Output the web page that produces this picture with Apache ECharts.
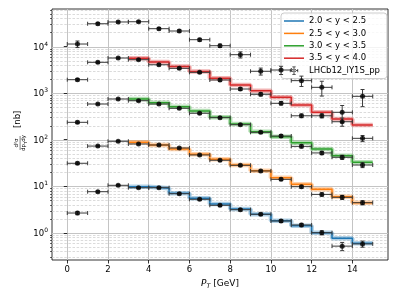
<!DOCTYPE html>
<html>
<head>
<meta charset="utf-8">
<script src="https://cdn.jsdelivr.net/npm/echarts@6/dist/echarts.min.js"></script>
<style>html,body{margin:0;padding:0;background:#fff}#c{width:399px;height:299px}</style>
</head>
<body>
<div id="c"></div>
<script>
// ---- data ----
const pT = [0.5, 1.5, 2.5, 3.5, 4.5, 5.5, 6.5, 7.5, 8.5, 9.5, 10.5, 11.5, 12.5, 13.5, 14.5];
const pTHalfWidth = 0.5;
// LHCb data (scaled per rapidity bin)
const dataY20 = [2.67, 7.66, 10.5, 9.33, 9.33, 6.94, 5.26, 3.91, 3.15, 2.51, 1.80, 1.48, 1.01, 0.52, 0.58];
const dataY25 = [31.2, 73, 92.5, 81, 77, 66.4, 47, 36.2, 28.2, 21.3, 14.1, 9.8, 6.7, 5.8, 4.45];
const dataY30 = [236, 583, 747, 687, 583, 472, 369, 297, 210, 144, 120, 72, 52, 42, 28.6];
const dataY35 = [1940, 4580, 5660, 5210, 4060, 3400, 2790, 1910, 1224, 942, 604, 326, 326, 243, 107];
const dataY40 = [11300, 30800, 33600, 34000, 24100, 21500, 14000, 10400, 6670, 2940, 3130, 1850, 1330, 387, 853];
// relative y uncertainties
const errY20 = [0.08, 0.05, 0.04, 0.04, 0.04, 0.05, 0.05, 0.05, 0.06, 0.06, 0.07, 0.08, 0.10, 0.20, 0.15];
const errY25 = [0.06, 0.04, 0.04, 0.04, 0.04, 0.04, 0.04, 0.05, 0.05, 0.05, 0.06, 0.07, 0.08, 0.10, 0.10];
const errY30 = [0.06, 0.04, 0.04, 0.04, 0.04, 0.04, 0.05, 0.05, 0.05, 0.06, 0.07, 0.08, 0.08, 0.10, 0.12];
const errY35 = [0.06, 0.05, 0.04, 0.04, 0.05, 0.05, 0.05, 0.06, 0.07, 0.08, 0.08, 0.09, 0.10, 0.20, 0.15];
const errY40 = [0.16, 0.06, 0.05, 0.05, 0.06, 0.06, 0.07, 0.08, 0.15, 0.17, 0.20, 0.25, 0.35, 0.40, 0.40];
// theory (step histograms, bins 3-4 ... 14-15)
const thEdges = [3, 4, 5, 6, 7, 8, 9, 10, 11, 12, 13, 14, 15];
const thY20 = [9.8, 9.06, 7.08, 5.52, 4.17, 3.26, 2.51, 1.83, 1.43, 1.01, 0.77, 0.60];
const thY25 = [88, 77, 63, 48.6, 38, 28.6, 21.6, 15.3, 11, 8.6, 6.0, 4.45];
const thY30 = [747, 622, 511, 413, 303, 217, 149, 116, 86, 63, 45, 33];
const thY35 = [5580, 4640, 3720, 2910, 2080, 1490, 1126, 813, 556, 387, 278, 207];
const thLabels = ['2.0 < y < 2.5', '2.5 < y < 3.0', '3.0 < y < 3.5', '3.5 < y < 4.0'];
const dataLabel = 'LHCb12_lY1S_pp';
const xTicks = [0, 2, 4, 6, 8, 10, 12, 14];
const yMajor = [1, 10, 100, 1000, 10000];
const yMin = 0.262, yMax = 63800;

// ---- build ----
const FONT = 'DejaVu Sans';
const colors = ['#1f77b4', '#ff7f0e', '#2ca02c', '#d62728'];
const thSets = [thY20, thY25, thY30, thY35];
function stepData(vals) {
  const d = vals.map((v, i) => [thEdges[i], v]);
  d.push([thEdges[thEdges.length - 1], vals[vals.length - 1]]);
  return d;
}
const dataSets = [[dataY20, errY20], [dataY25, errY25], [dataY30, errY30], [dataY35, errY35], [dataY40, errY40]];
const pts = [];
dataSets.forEach(([vals, errs]) => vals.forEach((v, i) => pts.push([pT[i], v, errs[i]])));

// grid lines (major decades + minor 2..9)
const gridVals = [];
for (let n = -1; n <= 4; n++) {
  for (let k = 1; k <= 9; k++) {
    const v = k * Math.pow(10, n);
    if (v > yMin && v < yMax) gridVals.push([0, v, k === 1 ? 1 : 0]);
  }
}

const series = [];
series.push({
  type: 'custom', silent: true, z: 0, clip: false,
  data: gridVals,
  renderItem: function (params, api) {
    const cs = params.coordSys;
    const y = Math.round(api.coord([0, api.value(1)])[1]) + 0.5;
    const major = api.value(2) === 1;
    const ch = [{
      type: 'line', shape: { x1: cs.x, y1: y, x2: cs.x + cs.width, y2: y },
      style: major ? { stroke: '#c4c4c4', lineWidth: 1 } : { stroke: '#d2d2d2', lineWidth: 0.8, lineDash: [2.5, 1.6] }
    }];
    if (!major) ch.push({ type: 'line', shape: { x1: cs.x - 2, y1: y, x2: cs.x, y2: y }, style: { stroke: '#000', lineWidth: 0.6 } });
    return { type: 'group', children: ch };
  }
});
thSets.forEach((vals, i) => {
  series.push({
    type: 'line', name: 'band' + i, step: 'end', data: stepData(vals), symbol: 'none', silent: true, z: 2,
    lineStyle: { color: colors[i], width: 4.5, opacity: 0.35 }
  });
});
thSets.forEach((vals, i) => {
  series.push({
    type: 'line', name: thLabels[i], step: 'end', data: stepData(vals), symbol: 'none', z: 3,
    color: colors[i], lineStyle: { color: colors[i], width: 1.5 }
  });
});
series.push({
  type: 'custom', name: dataLabel, z: 4, clip: false,
  data: pts, encode: { x: 0, y: 1 },
  itemStyle: { color: '#000' },
  renderItem: function (params, api) {
    const x = api.value(0), y = api.value(1), e = api.value(2) * y;
    const c = api.coord([x, y]);
    const l = api.coord([x - pTHalfWidth, y]), r = api.coord([x + pTHalfWidth, y]);
    const t = api.coord([x, y + e]), b = api.coord([x, y - e]);
    const st = { stroke: '#3a3a3a', lineWidth: 1 };
    const cap = 2;
    return {
      type: 'group', children: [
        { type: 'line', shape: { x1: l[0], y1: c[1], x2: r[0], y2: c[1] }, style: st },
        { type: 'line', shape: { x1: l[0], y1: c[1] - cap, x2: l[0], y2: c[1] + cap }, style: st },
        { type: 'line', shape: { x1: r[0], y1: c[1] - cap, x2: r[0], y2: c[1] + cap }, style: st },
        { type: 'line', shape: { x1: c[0], y1: t[1], x2: c[0], y2: b[1] }, style: st },
        { type: 'line', shape: { x1: c[0] - cap, y1: t[1], x2: c[0] + cap, y2: t[1] }, style: st },
        { type: 'line', shape: { x1: c[0] - cap, y1: b[1], x2: c[0] + cap, y2: b[1] }, style: st }
      ]
    };
  }
});
series.push({
  type: 'scatter', name: dataLabel, z: 5, data: pts, encode: { x: 0, y: 1 },
  symbol: 'circle', symbolSize: 5, itemStyle: { color: '#000' }
});

const ebIcon = 'path://M0,0 L0,0 M20,12 L20,12 M5,5.5 L15,5.5 L15,6.5 L5,6.5 Z M5,4 L5.9,4 L5.9,8 L5,8 Z M14.1,4 L15,4 L15,8 L14.1,8 Z M9.5,1 L10.5,1 L10.5,11 L9.5,11 Z M8,1 L12,1 L12,1.9 L8,1.9 Z M8,10.1 L12,10.1 L12,11 L8,11 Z M7.6,6 A2.4,2.4 0 1,0 12.4,6 A2.4,2.4 0 1,0 7.6,6 Z';
const lineIcon = 'path://M0,0 L0,0 M20,10 L20,10 M0,4.25 L20,4.25 L20,5.75 L0,5.75 Z';

const option = {
  animation: false,
  backgroundColor: '#fff',
  textStyle: { fontFamily: FONT },
  grid: { left: 52, top: 9, width: 336, height: 251, show: true, borderColor: '#000', borderWidth: 0.8, backgroundColor: 'transparent' },
  legend: {
    orient: 'vertical', left: 281, top: 13, selectedMode: false,
    itemWidth: 20, itemHeight: 10, itemGap: 2.4,
    padding: [3, 7, 3, 3],
    backgroundColor: 'rgba(255,255,255,0.8)', borderColor: '#cccccc', borderWidth: 1, borderRadius: 3,
    textStyle: { fontSize: 8.5, color: '#000', fontFamily: FONT, lineHeight: 10 },
    data: thLabels.map((n, i) => ({ name: n, icon: lineIcon, itemStyle: { color: colors[i], borderWidth: 0 } }))
      .concat([{ name: dataLabel, icon: ebIcon, itemStyle: { color: '#222', borderWidth: 0 } }])
  },
  xAxis: {
    type: 'value', min: -0.75, max: 15.75, minInterval: 2, maxInterval: 2,
    axisLine: { show: false },
    axisTick: { show: true, length: 3.5, customValues: xTicks, lineStyle: { color: '#000', width: 0.8 } },
    axisLabel: { customValues: xTicks, fontSize: 8.5, color: '#000', margin: 5, fontFamily: FONT },
    splitLine: { show: true, lineStyle: { color: '#c4c4c4', width: 1 } },
    name: '{i|P}{t|T}{n| [GeV]}', nameLocation: 'middle', nameGap: 15,
    nameTextStyle: {
      rich: {
        i: { fontSize: 9, fontStyle: 'italic', fontFamily: FONT, color: '#000', lineHeight: 12, verticalAlign: 'middle' },
        t: { fontSize: 6.3, fontStyle: 'italic', fontFamily: FONT, color: '#000', lineHeight: 7, verticalAlign: 'bottom' },
        n: { fontSize: 9, fontFamily: FONT, color: '#000', lineHeight: 12, verticalAlign: 'middle' }
      }
    }
  },
  yAxis: {
    type: 'log', logBase: 10, min: yMin, max: yMax,
    axisLine: { show: false },
    axisTick: { show: true, length: 3.5, customValues: yMajor, lineStyle: { color: '#000', width: 0.8 } },
    axisLabel: {
      customValues: yMajor, margin: 4, color: '#000',
      formatter: function (v) { return '{b|10}{s|' + Math.round(Math.log10(v)) + '}'; },
      rich: {
        b: { fontSize: 8.5, fontFamily: FONT, color: '#000', lineHeight: 11, verticalAlign: 'bottom' },
        s: { fontSize: 6, fontFamily: FONT, color: '#000', lineHeight: 7, verticalAlign: 'top' }
      }
    },
    splitLine: { show: false }
  },
  graphic: [{
    type: 'group', x: 17.5, y: 134, rotation: Math.PI / 2,
    children: [
      { type: 'text', x: -9, y: 2, style: { text: 'd²σ', fontSize: 5.5, fontFamily: FONT, fill: '#000', align: 'center', verticalAlign: 'bottom' } },
      { type: 'line', shape: { x1: -16, y1: 2.6, x2: -2, y2: 2.6 }, style: { stroke: '#000', lineWidth: 0.5 } },
      { type: 'text', x: -9, y: 3.2, style: { text: '{a|dp}{b|T}{a|dy}', fontFamily: FONT, fill: '#000', align: 'center', verticalAlign: 'top',
          rich: { a: { fontSize: 5.5, fontFamily: FONT, lineHeight: 7, verticalAlign: 'top' }, b: { fontSize: 4, fontFamily: FONT, lineHeight: 5, verticalAlign: 'bottom' } } } },
      { type: 'text', x: 6, y: 0, style: { text: '[nb]', fontSize: 8.5, fontFamily: FONT, fill: '#000', align: 'left', verticalAlign: 'middle' } }
    ]
  }],
  series: series
};
const chart = echarts.init(document.getElementById('c'), null, { renderer: 'canvas' });
chart.setOption(option);
</script>
</body>
</html>
